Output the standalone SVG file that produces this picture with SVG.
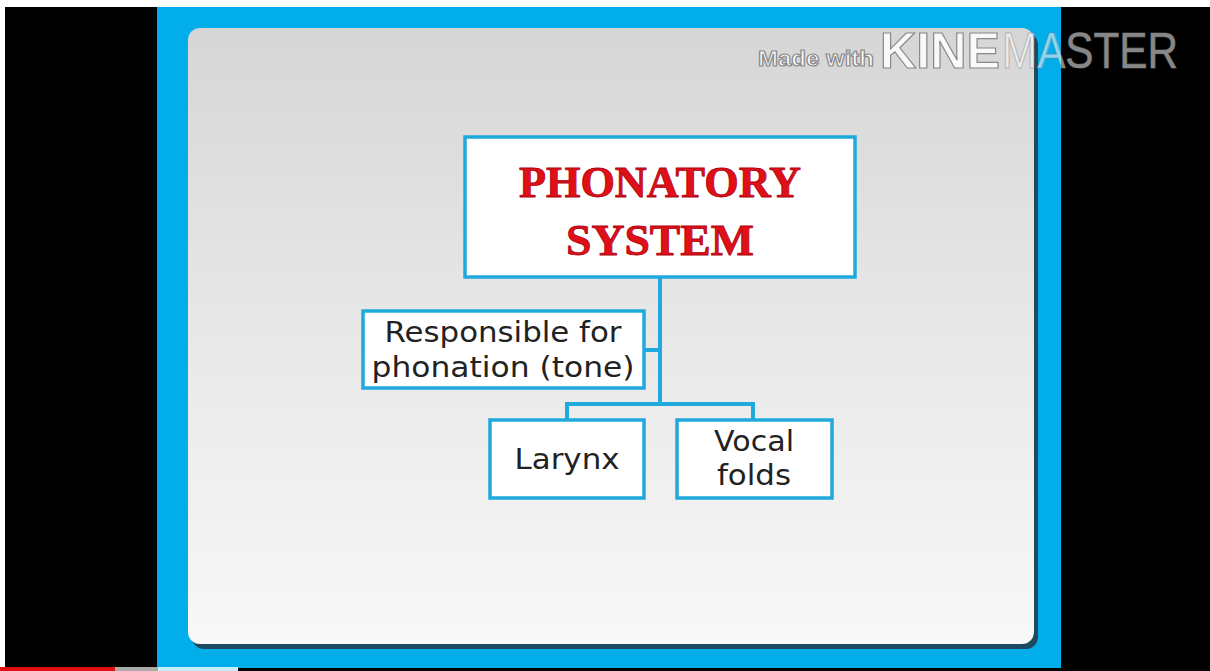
<svg xmlns="http://www.w3.org/2000/svg" width="1210" height="671" viewBox="0 0 1210 671">
<defs>
<linearGradient id="panelG" x1="0" y1="0" x2="0" y2="1">
<stop offset="0" stop-color="#d6d6d6"/>
<stop offset="0.5" stop-color="#e8e8e8"/>
<stop offset="1" stop-color="#f8f8f8"/>
</linearGradient>
<style>
.box{fill:#ffffff;stroke:#1fa9dc;stroke-width:3.5}
.conn{fill:none;stroke:#1fa9dc;stroke-width:4;stroke-linejoin:miter}
.title{font-family:"Liberation Serif",serif;font-weight:bold;fill:#e01018;font-size:44px;text-anchor:middle;stroke:#b00010;stroke-width:0.8}
.lbl{font-family:"DejaVu Sans",Verdana,sans-serif;fill:#222;font-size:29px;text-anchor:middle}
.wm{font-family:"Liberation Sans",Arial,sans-serif;fill:#ffffff;stroke:#8a8a8a;stroke-width:1.2}
</style>
</defs>
<rect x="0" y="0" width="1210" height="671" fill="#ffffff"/>
<rect x="5" y="7" width="1205" height="664" fill="#000000"/>
<rect x="157" y="7" width="904" height="661" fill="#02aeea"/>
<rect x="192" y="33" width="846" height="616" rx="12" fill="#1d4a5e"/>
<rect x="188" y="28" width="846" height="616" rx="12" fill="url(#panelG)"/>
<g id="connectors">
<path class="conn" d="M660 278 V403"/>
<path class="conn" d="M644 350 H660"/>
<path class="conn" d="M567 420 V404 H753 V420"/>
</g>
<g id="phonatory-system">
<rect class="box" x="465" y="137" width="390" height="140"/>
<text class="title" x="660" y="197" textLength="282" lengthAdjust="spacingAndGlyphs">PHONATORY</text>
<text class="title" x="660" y="255" textLength="188" lengthAdjust="spacingAndGlyphs">SYSTEM</text>
</g>
<g id="responsible">
<rect class="box" x="363" y="311" width="281" height="77"/>
<text class="lbl" x="503" y="342" textLength="237" lengthAdjust="spacingAndGlyphs">Responsible for</text>
<text class="lbl" x="503" y="377" textLength="263" lengthAdjust="spacingAndGlyphs">phonation (tone)</text>
</g>
<g id="larynx">
<rect class="box" x="490" y="420" width="154" height="78"/>
<text class="lbl" x="567" y="469" textLength="105" lengthAdjust="spacingAndGlyphs">Larynx</text>
</g>
<g id="vocal-folds">
<rect class="box" x="677" y="420" width="155" height="78"/>
<text class="lbl" x="754" y="451" textLength="80" lengthAdjust="spacingAndGlyphs">Vocal</text>
<text class="lbl" x="754" y="485" textLength="74" lengthAdjust="spacingAndGlyphs">folds</text>
</g>
<g id="watermark">
<text class="wm" x="758" y="66" font-size="22" font-weight="bold" fill-opacity="0.9" textLength="116" lengthAdjust="spacingAndGlyphs">Made with</text>
<text class="wm" x="880" y="68" font-size="50" font-weight="bold" fill-opacity="0.85" textLength="120" lengthAdjust="spacingAndGlyphs">KINE</text>
<text class="wm" x="1002" y="68" font-size="50" fill-opacity="0.55" stroke-opacity="0.5" textLength="176" lengthAdjust="spacingAndGlyphs">MASTER</text>
</g>
<rect x="0" y="667" width="115" height="4" fill="#e01010"/>
<rect x="115" y="667" width="43" height="4" fill="#aaaaaa"/>
<rect x="158" y="667" width="80" height="4" fill="#c8eef8"/>
</svg>
